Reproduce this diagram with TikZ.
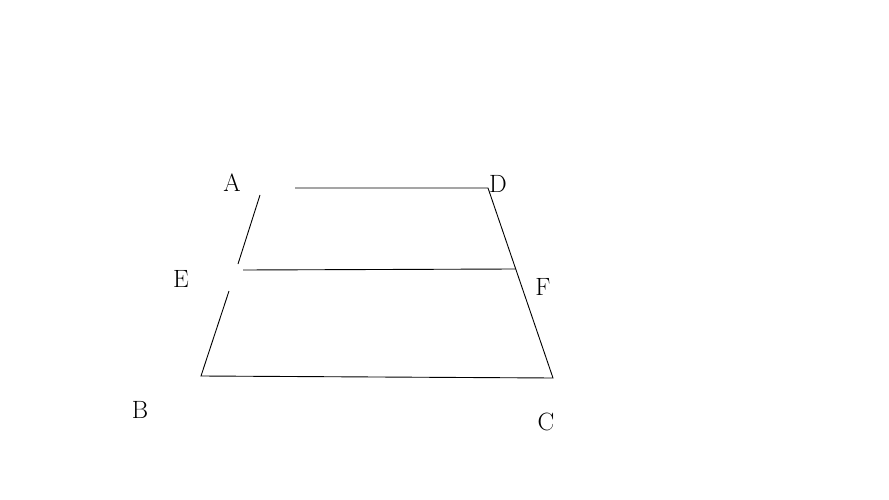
\documentclass[tikz,border=0pt]{standalone}
\usetikzlibrary{calc, positioning}

\begin{document}
\begin{tikzpicture}[x=1pt, y=-1pt, line width=0.9pt,
		      lbl/.style = {font=\fontsize{25}{25}\selectfont, inner sep=0pt} ]
   \useasboundingbox (0,0) rectangle (889,500);

   % corners of the figure
   \coordinate (A) at (263,188);
   \coordinate (D) at (488,188);
   \coordinate (B) at (201,376);
   \coordinate (C) at (553,378);
   \coordinate (E) at (236,269);
   \coordinate (F) at (515,269);

   % ends of the broken pieces
   \coordinate (a1) at (260,195);
   \coordinate (e1) at (238,264);
   \coordinate (e2) at (229,291);
   \coordinate (d0) at (295,188);
   \coordinate (f0) at (243,270);

   \draw (a1) -- (e1);
   \draw (e2) -- (B) -- (C) -- (D) -- (d0);
   \draw (f0) -- (F);

   \node (nA) [lbl] at (232,183) {A};
   \node (nD) [lbl] at (498,184) {D};
   \node (nE) [lbl] at (181,279) {E};
   \node (nF) [lbl] at (543,287) {F};
   \node (nB) [lbl] at (140,410) {B};
   \node (nC) [lbl] at (546,422) {C};
\end{tikzpicture}
\end{document}
